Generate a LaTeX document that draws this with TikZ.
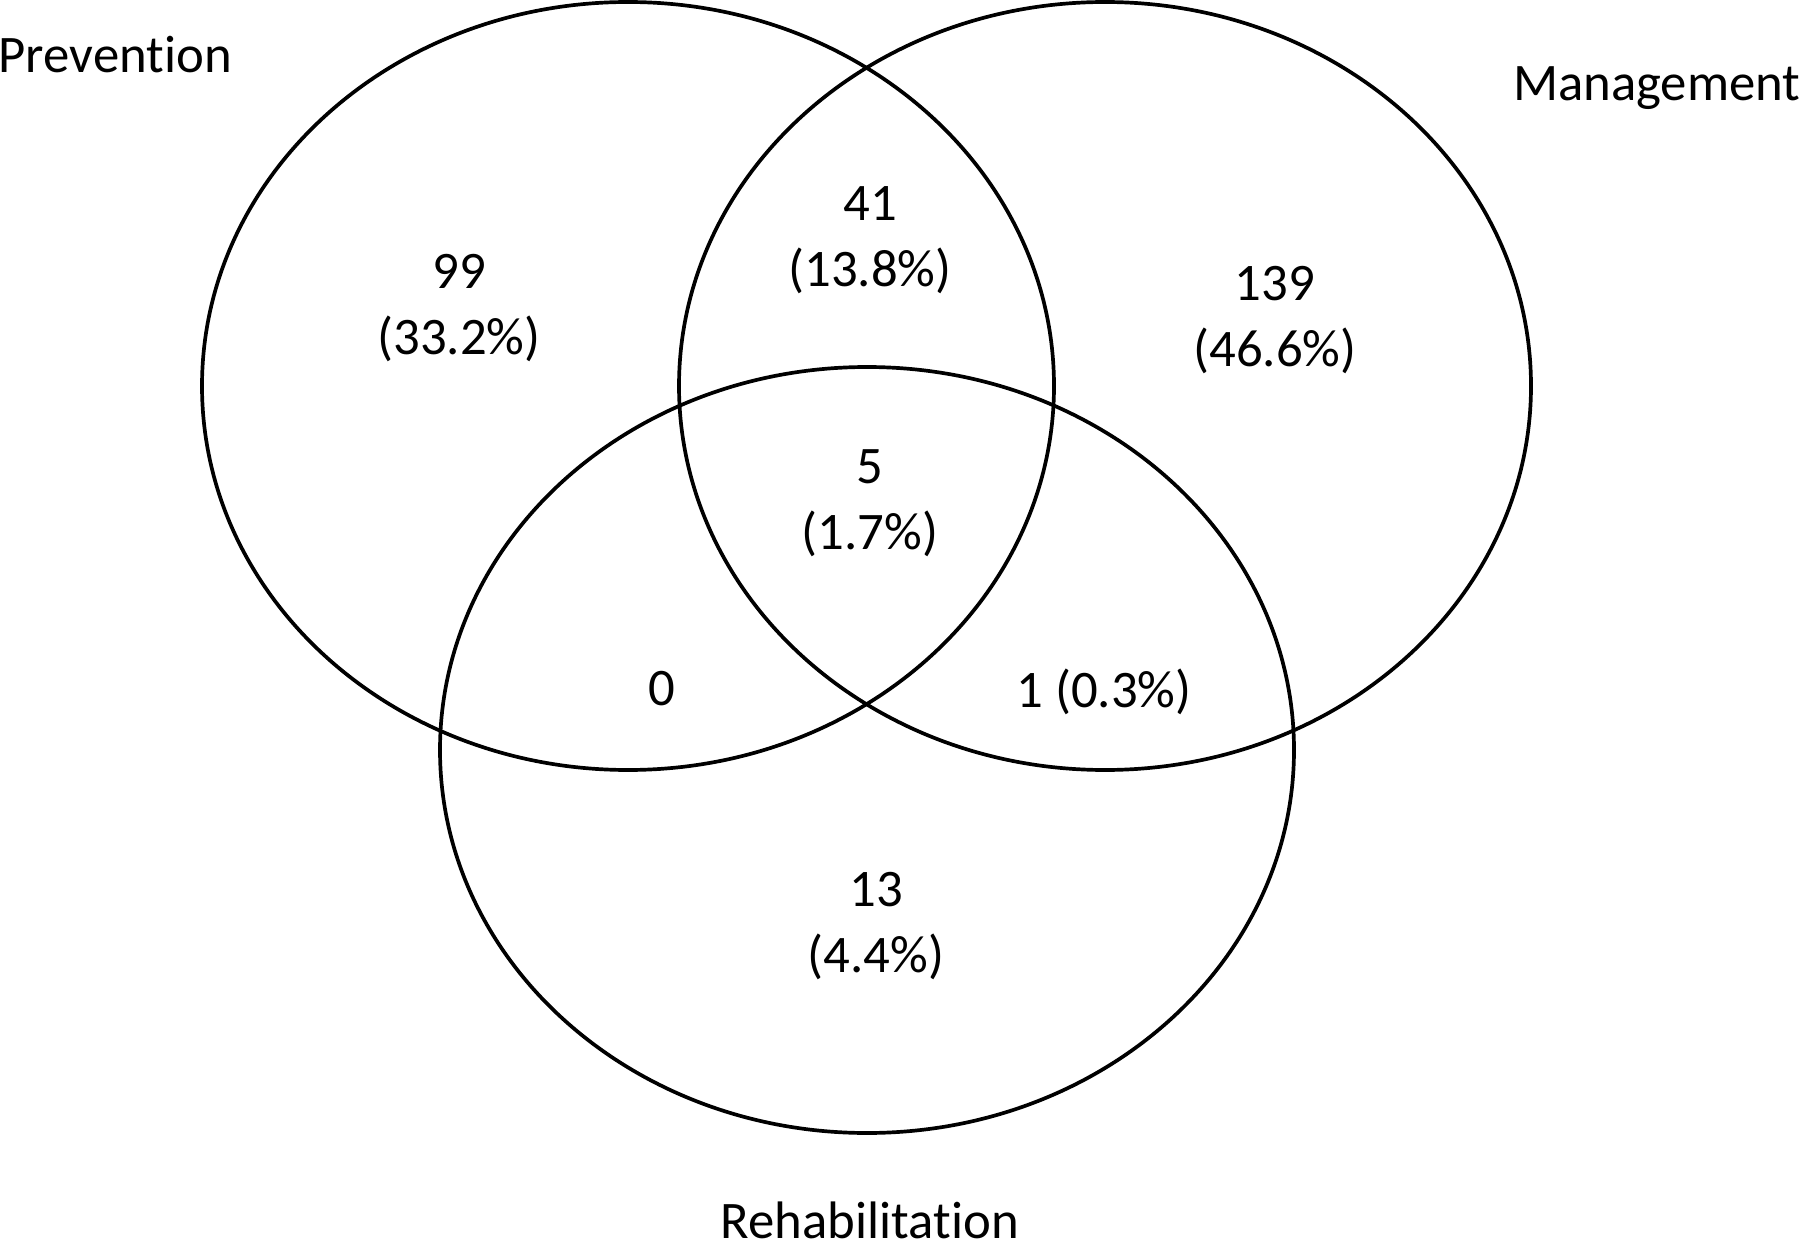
\documentclass[tikz,border=0pt]{standalone}
\usepackage{fontspec}
\setmainfont[Ligatures=NoCommon]{Carlito}
\usepackage{tikz}

\begin{document}
\begin{tikzpicture}[x=0.01cm,y=-0.01cm,set/.style={line width=1.05pt},
    num/.style={align=center,inner sep=0pt,font=\fontsize{15}{18.8}\selectfont}]
  \useasboundingbox (0,0) rectangle (1800,1249);
  \coordinate (prev) at (628,386);
  \coordinate (mgmt) at (1105,386);
  \coordinate (rehab) at (867,750);

  \draw[set] (prev) ellipse [x radius=426, y radius=384];
  \draw[set] (mgmt) ellipse [x radius=426, y radius=384];
  \draw[set] (rehab) ellipse [x radius=427, y radius=383];

  \node[num,anchor=west] (lp) at (-2,55) {Prevention};
  \node[num,anchor=east] (lm) at (1801,88) {Management};
  \node[num] (lr) at (870,1220) {Rehabilitation};

  \node[num] (p) at (459,308) {99\\(33.2\%)};
  \node[num] (pm) at (870,240) {41\\(13.8\%)};
  \node[num] (m) at (1275,320) {139\\(46.6\%)};
  \node[num] (pmr) at (870,503) {5\\(1.7\%)};
  \node[num] (pr) at (662,689) {0};
  \node[num] (mr) at (1104,692) {1 (0.3\%)};
  \node[num] (r) at (876,926) {13\\(4.4\%)};
\end{tikzpicture}
\end{document}
